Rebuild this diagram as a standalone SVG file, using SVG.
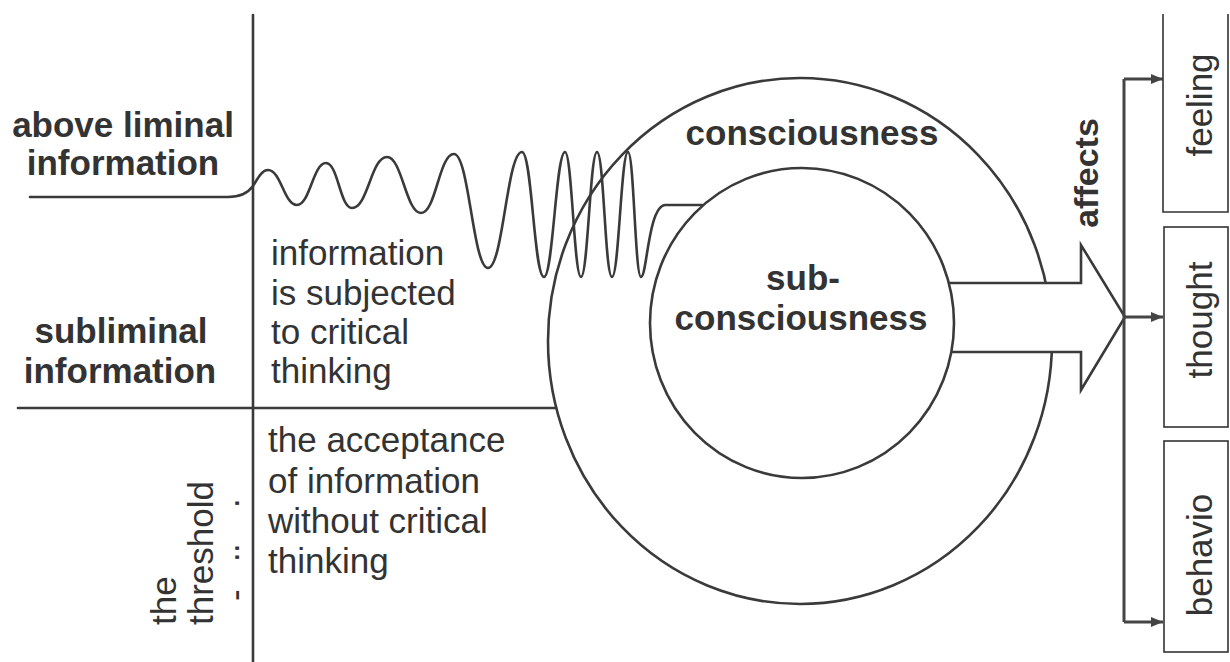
<svg xmlns="http://www.w3.org/2000/svg" width="1230" height="662" viewBox="0 0 1230 662">
<defs>
<style>
.ln{fill:none;stroke:#3a3a3a;stroke-width:2.6;stroke-linejoin:round;stroke-linecap:round}
.box{fill:#fff;stroke:#333;stroke-width:1.6}
.conn{fill:none;stroke:#444;stroke-width:3}
.b{font-family:"Liberation Sans",Arial,sans-serif;font-weight:bold;font-size:35px;fill:#333}
.r{font-family:"Liberation Sans",Arial,sans-serif;font-size:35px;fill:#333}
</style>
<marker id="ah" viewBox="0 0 12 10" refX="12" refY="5" markerWidth="12" markerHeight="10" markerUnits="userSpaceOnUse" orient="auto">
<path d="M0,0 L12,5 L0,10 z" fill="#444"/>
</marker>
</defs>
<rect width="1230" height="662" fill="#fff"/>

<g id="threshold-line">
<line class="ln" x1="253" y1="15" x2="253" y2="662"/>
</g>
<g id="subliminal-line">
<line class="ln" x1="18" y1="408" x2="556" y2="408"/>
</g>

<g id="consciousness">
<ellipse class="ln" cx="800" cy="341" rx="252" ry="263"/>
<text class="b" x="812" y="145" text-anchor="middle">consciousness</text>
</g>

<g id="wave">
<path class="ln" d="M30,197 L228,197 C240,197 248,193 253,186 C258,178 262,170 268,170 C281,170 284,205 297,205 C310,205 313,163 326,163 C338,163 340,208 352,208 C368,208 371,157 387,157 C402,157 406,213 421,213 C436,213 439,154 454,154 C469,154 473,268 488,268 C503,268 507,152 522,152 C532,152 534,277 544,277 C553,277 556,152 565,152 C572,152 574,277 581,277 C588,277 590,152 597,152 C604,152 605,277 612,277 C619,277 621,152 628,152 C634,152 635,277 641,277 C647,277 648,207 665,205 L702,205"/>
</g>

<g id="big-arrow">
<polygon points="900,283 1081,283 1081,245 1125,317 1081,390 1081,352 900,352" fill="#fff" stroke="#3a3a3a" stroke-width="2.6" stroke-linejoin="miter"/>
</g>

<g id="subconsciousness">
<ellipse cx="802" cy="323" rx="152" ry="155" fill="#fff" stroke="#3a3a3a" stroke-width="2.6"/>
<text class="b" x="803" y="290" text-anchor="middle">sub-</text>
<text class="b" x="801" y="330" text-anchor="middle">consciousness</text>
</g>

<g id="labels">
<text class="b" x="123" y="137" text-anchor="middle">above liminal</text>
<text class="b" x="123" y="175" text-anchor="middle">information</text>
<text class="b" x="121" y="343" text-anchor="middle">subliminal</text>
<text class="b" x="120" y="383" text-anchor="middle">information</text>
<text class="r" x="271" y="265">information</text>
<text class="r" x="271" y="305">is subjected</text>
<text class="r" x="271" y="344">to critical</text>
<text class="r" x="271" y="383">thinking</text>
<text class="r" x="268" y="452">the acceptance</text>
<text class="r" x="268" y="493">of information</text>
<text class="r" x="268" y="533">without critical</text>
<text class="r" x="268" y="573">thinking</text>
<text class="r" transform="translate(176,625) rotate(-90)">the</text>
<text class="r" transform="translate(213,625) rotate(-90)">threshold</text>
<text class="r" transform="rotate(-90)" x="-601 -563 -554 -509" y="247">-···</text>
<text class="b" style="font-size:34px" transform="translate(1098,173) rotate(-90)" text-anchor="middle">affects</text>
</g>

<g id="connectors">
<line class="conn" x1="1124" y1="79" x2="1124" y2="622"/>
<line class="conn" x1="1124" y1="79" x2="1163" y2="79" marker-end="url(#ah)"/>
<line class="conn" x1="1124" y1="317" x2="1163" y2="317" marker-end="url(#ah)"/>
<line class="conn" x1="1124" y1="622" x2="1163" y2="622" marker-end="url(#ah)"/>
</g>

<g id="feeling">
<path d="M1163,14 V212 H1228 V14" fill="none" stroke="#333" stroke-width="1.6"/>
<text class="r" transform="translate(1212,105) rotate(-90)" text-anchor="middle">feeling</text>
</g>
<g id="thought">
<rect class="box" x="1164" y="227" width="64" height="200"/>
<text class="r" transform="translate(1212,320) rotate(-90)" text-anchor="middle">thought</text>
</g>
<g id="behavio">
<rect class="box" x="1164" y="441" width="64" height="211"/>
<text class="r" transform="translate(1212,555) rotate(-90)" text-anchor="middle">behavio</text>
</g>
</svg>
